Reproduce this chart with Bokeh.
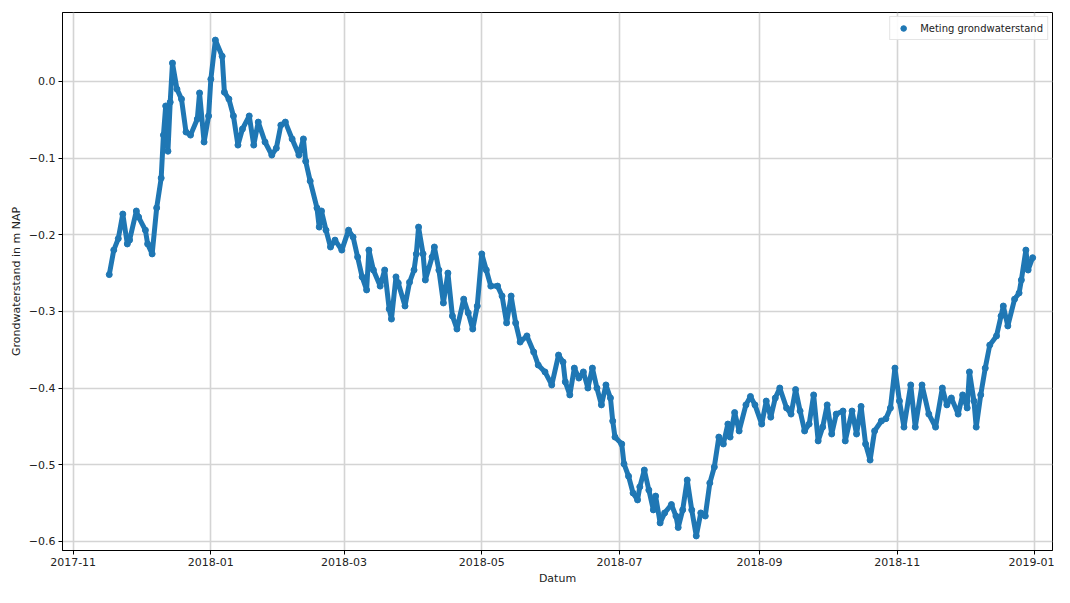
import pandas as pd
from bokeh.plotting import figure
from bokeh.models import Range1d, FixedTicker, CustomJSTickFormatter, ColumnDataSource
from bokeh.embed import file_html
from bokeh.resources import INLINE

# ---- data ----
dates = [
    "2017-11-17", "2017-11-19", "2017-11-21", "2017-11-23", "2017-11-25", "2017-11-26",
    "2017-11-29", "2017-11-30", "2017-12-03", "2017-12-04", "2017-12-06", "2017-12-08",
    "2017-12-10", "2017-12-11", "2017-12-12", "2017-12-13", "2017-12-14", "2017-12-15",
    "2017-12-17", "2017-12-19", "2017-12-21", "2017-12-23", "2017-12-26", "2017-12-27",
    "2017-12-29", "2017-12-31", "2018-01-01", "2018-01-03", "2018-01-06", "2018-01-07",
    "2018-01-09", "2018-01-11", "2018-01-13", "2018-01-15", "2018-01-18", "2018-01-20",
    "2018-01-22", "2018-01-25", "2018-01-28", "2018-01-30", "2018-02-01", "2018-02-03",
    "2018-02-06", "2018-02-09", "2018-02-11", "2018-02-12", "2018-02-14", "2018-02-17",
    "2018-02-18", "2018-02-19", "2018-02-21", "2018-02-23", "2018-02-25", "2018-02-28",
    "2018-03-03", "2018-03-05", "2018-03-07", "2018-03-09", "2018-03-11", "2018-03-12",
    "2018-03-14", "2018-03-17", "2018-03-19", "2018-03-21", "2018-03-22", "2018-03-24",
    "2018-03-25", "2018-03-28", "2018-03-30", "2018-04-01", "2018-04-02", "2018-04-03",
    "2018-04-05", "2018-04-06", "2018-04-09", "2018-04-10", "2018-04-12", "2018-04-14",
    "2018-04-16", "2018-04-18", "2018-04-20", "2018-04-23", "2018-04-25", "2018-04-27",
    "2018-04-29", "2018-05-01", "2018-05-03", "2018-05-05", "2018-05-08", "2018-05-10",
    "2018-05-12", "2018-05-14", "2018-05-16", "2018-05-18", "2018-05-21", "2018-05-24",
    "2018-05-26", "2018-05-29", "2018-06-01", "2018-06-04", "2018-06-06", "2018-06-07",
    "2018-06-09", "2018-06-11", "2018-06-13", "2018-06-15", "2018-06-17", "2018-06-19",
    "2018-06-21", "2018-06-23", "2018-06-25", "2018-06-27", "2018-06-28", "2018-06-29",
    "2018-07-02", "2018-07-03", "2018-07-05", "2018-07-07", "2018-07-09", "2018-07-10",
    "2018-07-12", "2018-07-14", "2018-07-16", "2018-07-17", "2018-07-19", "2018-07-21",
    "2018-07-24", "2018-07-26", "2018-07-27", "2018-07-29", "2018-07-31", "2018-08-02",
    "2018-08-04", "2018-08-06", "2018-08-08", "2018-08-10", "2018-08-12", "2018-08-14",
    "2018-08-16", "2018-08-18", "2018-08-19", "2018-08-21", "2018-08-23", "2018-08-26",
    "2018-08-28", "2018-08-30", "2018-09-02", "2018-09-04", "2018-09-06", "2018-09-08",
    "2018-09-10", "2018-09-13", "2018-09-15", "2018-09-17", "2018-09-19", "2018-09-21",
    "2018-09-23", "2018-09-25", "2018-09-27", "2018-09-29", "2018-10-01", "2018-10-03",
    "2018-10-05", "2018-10-08", "2018-10-09", "2018-10-12", "2018-10-14", "2018-10-16",
    "2018-10-18", "2018-10-20", "2018-10-22", "2018-10-25", "2018-10-27", "2018-10-29",
    "2018-10-31", "2018-11-02", "2018-11-04", "2018-11-07", "2018-11-09", "2018-11-12",
    "2018-11-15", "2018-11-18", "2018-11-21", "2018-11-23", "2018-11-25", "2018-11-28",
    "2018-11-30", "2018-12-02", "2018-12-03", "2018-12-05", "2018-12-06", "2018-12-08",
    "2018-12-10", "2018-12-12", "2018-12-15", "2018-12-17", "2018-12-18", "2018-12-20",
    "2018-12-23", "2018-12-25", "2018-12-26", "2018-12-28", "2018-12-29", "2018-12-31",
]
levels = [
    -0.252, -0.220, -0.205, -0.173, -0.212, -0.207,
    -0.169, -0.177, -0.194, -0.212, -0.225, -0.165,
    -0.126, -0.070, -0.032, -0.091, -0.027, 0.024,
    -0.010, -0.023, -0.066, -0.070, -0.049, -0.015,
    -0.079, -0.045, 0.003, 0.054, 0.033, -0.014,
    -0.023, -0.045, -0.083, -0.062, -0.045, -0.083,
    -0.053, -0.079, -0.096, -0.087, -0.057, -0.053,
    -0.075, -0.096, -0.075, -0.104, -0.130, -0.165,
    -0.190, -0.169, -0.194, -0.216, -0.207, -0.220,
    -0.194, -0.203, -0.229, -0.255, -0.272, -0.220,
    -0.246, -0.267, -0.246, -0.297, -0.310, -0.255,
    -0.263, -0.293, -0.262, -0.246, -0.225, -0.190,
    -0.225, -0.259, -0.229, -0.216, -0.246, -0.289,
    -0.250, -0.306, -0.323, -0.284, -0.302, -0.323,
    -0.293, -0.225, -0.246, -0.267, -0.267, -0.280,
    -0.315, -0.280, -0.315, -0.340, -0.332, -0.353,
    -0.370, -0.379, -0.396, -0.357, -0.366, -0.392,
    -0.409, -0.374, -0.387, -0.379, -0.400, -0.374,
    -0.400, -0.422, -0.396, -0.413, -0.443, -0.464,
    -0.473, -0.499, -0.515, -0.537, -0.546, -0.529,
    -0.507, -0.533, -0.559, -0.541, -0.576, -0.563,
    -0.552, -0.567, -0.582, -0.559, -0.520, -0.559,
    -0.593, -0.563, -0.567, -0.524, -0.503, -0.464,
    -0.473, -0.447, -0.464, -0.432, -0.456, -0.422,
    -0.411, -0.422, -0.447, -0.417, -0.438, -0.413,
    -0.400, -0.426, -0.434, -0.402, -0.430, -0.456,
    -0.447, -0.409, -0.469, -0.451, -0.422, -0.460,
    -0.434, -0.430, -0.469, -0.430, -0.460, -0.424,
    -0.473, -0.494, -0.456, -0.443, -0.440, -0.426,
    -0.374, -0.417, -0.451, -0.396, -0.451, -0.396,
    -0.434, -0.451, -0.400, -0.422, -0.413, -0.434,
    -0.409, -0.426, -0.379, -0.417, -0.451, -0.409,
    -0.374, -0.344, -0.332, -0.306, -0.293, -0.319,
    -0.284, -0.276, -0.259, -0.220, -0.246, -0.230,
]
x_tick_labels = ["2017-11", "2018-01", "2018-03", "2018-05", "2018-07", "2018-09", "2018-11", "2019-01"]
y_ticks = [-0.6, -0.5, -0.4, -0.3, -0.2, -0.1, 0.0]
series_name = "Meting grondwaterstand"
x_label = "Datum"
y_label = "Grondwaterstand in m NAP"

# ---- build ----
BLUE = "#1f77b4"
FONT = "DejaVu Sans"
epoch = pd.Timestamp("1970-01-01")
x_tick_ms = [int((pd.Timestamp(t + "-01") - epoch) // pd.Timedelta(milliseconds=1)) for t in x_tick_labels]

source = ColumnDataSource(data=dict(x=pd.to_datetime(dates), y=levels))

p = figure(
    width=1054, height=587,
    x_axis_type="datetime",
    x_range=Range1d(pd.Timestamp("2017-10-27 07:00"), pd.Timestamp("2019-01-08 19:00")),
    y_range=Range1d(-0.612, 0.09),
    output_backend="svg", toolbar_location=None,
    min_border_left=62, min_border_top=12, min_border_right=2, min_border_bottom=0,
)

p.line("x", "y", source=source, line_color=BLUE, line_width=5, line_join="round", line_cap="round")
p.scatter("x", "y", source=source, size=6, color=BLUE, legend_label=series_name)

p.xaxis.ticker = FixedTicker(ticks=x_tick_ms)
p.xaxis.formatter = CustomJSTickFormatter(code="""
    const d = new Date(tick);
    const m = d.getUTCMonth() + 1;
    return d.getUTCFullYear() + '-' + (m < 10 ? '0' + m : m);
""")
p.yaxis.ticker = FixedTicker(ticks=y_ticks)
p.yaxis.formatter = CustomJSTickFormatter(code="""
    return (tick < -1e-9 ? '\\u2212' : '') + Math.abs(tick).toFixed(1);
""")

for ax in (p.xaxis, p.yaxis):
    ax.axis_label_text_font = FONT
    ax.axis_label_text_font_size = "11px"
    ax.axis_label_text_font_style = "normal"
    ax.axis_label_text_color = "#222222"
    ax.major_label_text_font = FONT
    ax.major_label_text_font_size = "11px"
    ax.major_label_text_color = "#222222"
    ax.axis_line_color = "black"
    ax.major_tick_line_color = "black"
    ax.major_tick_out = 4
    ax.major_tick_in = 0
    ax.minor_tick_line_color = None
    ax.major_label_standoff = 3
    ax.axis_label_standoff = 3

p.xaxis.axis_label = x_label
p.yaxis.axis_label = y_label

p.xgrid.grid_line_color = "#d4d4d4"
p.ygrid.grid_line_color = "#d4d4d4"
p.xgrid.grid_line_width = 1.6
p.ygrid.grid_line_width = 1.6
p.outline_line_color = "black"
p.outline_line_width = 1

p.legend.location = "top_right"
p.legend.label_text_font = FONT
p.legend.label_text_font_size = "10px"
p.legend.label_text_color = "#222222"
p.legend.border_line_color = "#cccccc"
p.legend.background_fill_alpha = 0.9
p.legend.margin = 4
p.legend.padding = 4
p.legend.glyph_width = 18
p.legend.glyph_height = 14
p.legend.label_standoff = 8
p.legend.label_height = 14

open("out.html", "w").write(file_html(p, INLINE))
